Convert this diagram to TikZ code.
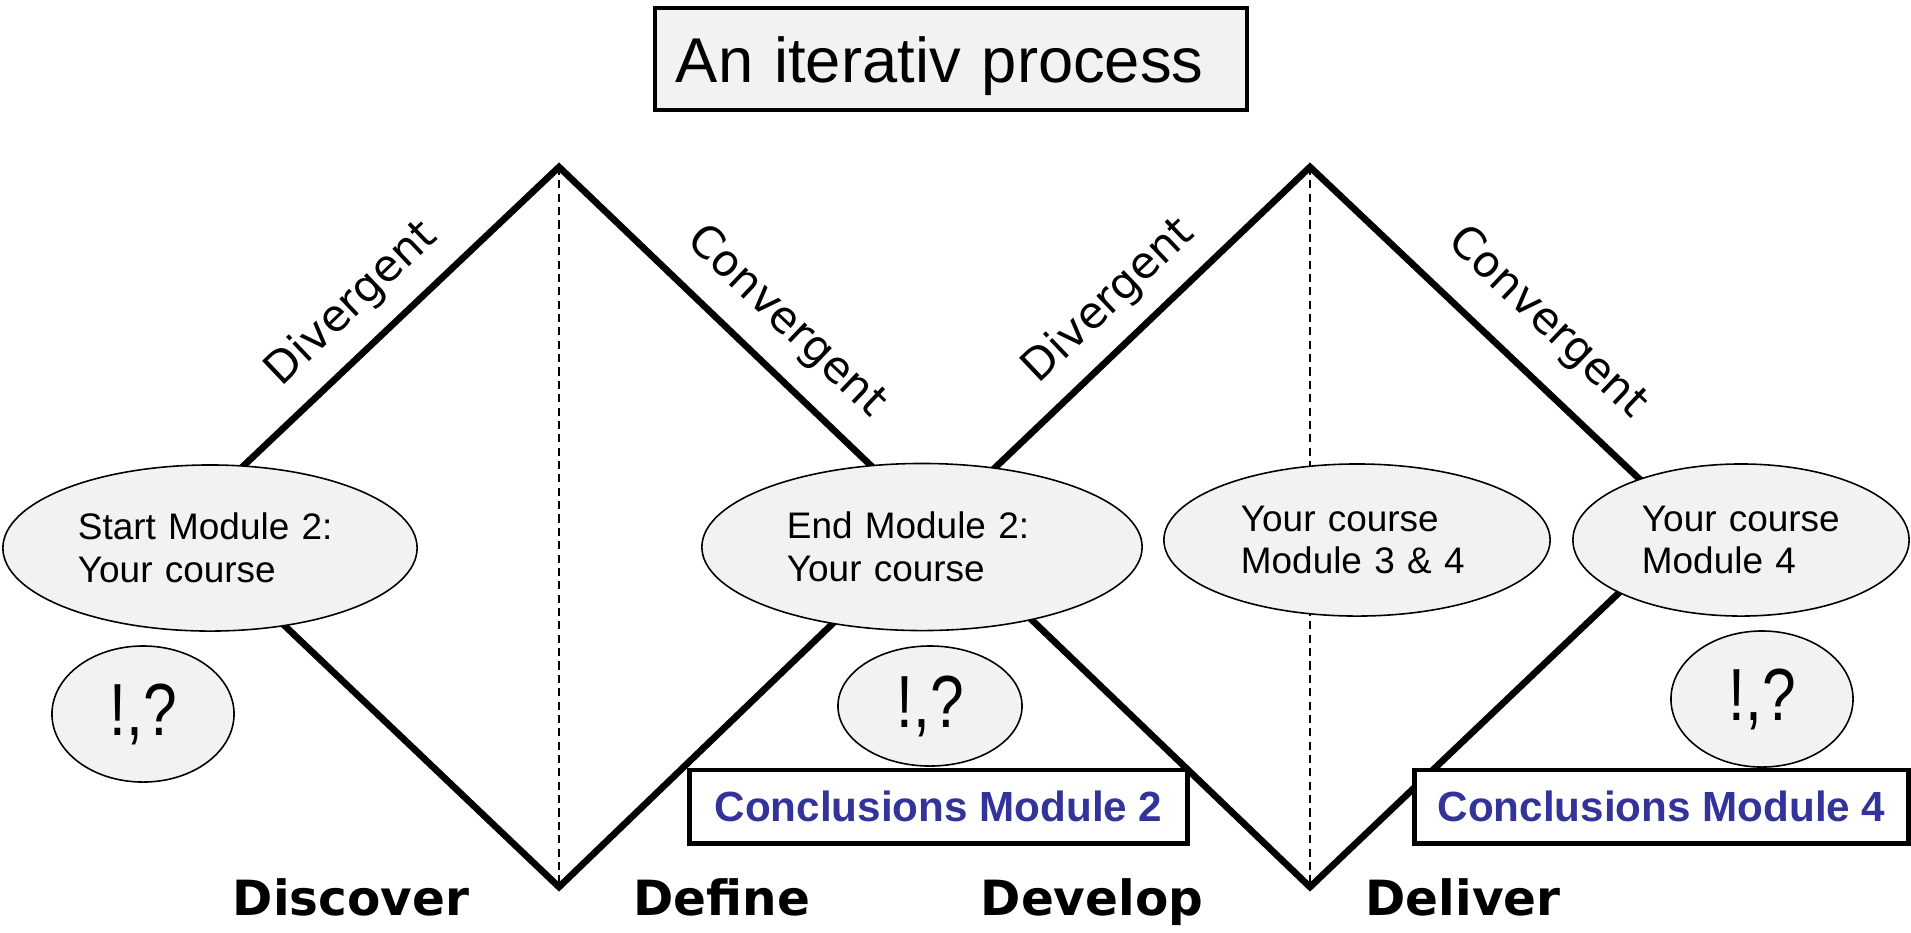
\documentclass[tikz,border=0pt]{standalone}
\usepackage{fontspec}
\setmainfont{Liberation Sans}
\newfontfamily\vera{DejaVu Sans}
\usepackage{tikz}
\usetikzlibrary{shapes.geometric, positioning}
\definecolor{bubblegray}{HTML}{F2F2F2}
\definecolor{conclblue}{HTML}{333399}
\tikzset{
	phase/.style={draw, line width=1.9pt, line join=miter},
	midline/.style={draw, line width=0.45pt, dash pattern=on 2.3pt off 1.5pt},
	bubble/.style={ellipse, draw, line width=0.45pt, fill=bubblegray, inner sep=0pt, align=left, font=\fontsize{10.5}{12.2}\selectfont},
	qbubble/.style={ellipse, draw, line width=0.45pt, fill=bubblegray, inner sep=0pt, font=\fontsize{21}{24}\selectfont},
	titlebox/.style={rectangle, draw, line width=1.15pt, fill=bubblegray, inner sep=0pt, text width=5.5cm, align=left, text height=0.6cm, text depth=0.14cm, font=\fontsize{18}{21}\selectfont},
	conclbox/.style={rectangle, draw, line width=1.4pt, fill=white, inner sep=0pt, minimum height=0.73cm, text=conclblue, font=\fontsize{12}{14}\selectfont\bfseries},
	slopelabel/.style={inner sep=0pt, font=\vera\fontsize{12.5}{15}\selectfont},
	phaselabel/.style={anchor=base, inner sep=0pt, font=\vera\bfseries\fontsize{13.8}{16}\selectfont}
}
\newcommand{\qmark}{\scalebox{0.82}[1]{!,?}}

\begin{document}
\begin{tikzpicture}[x=0.01cm, y=-0.01cm]
	\useasboundingbox (0,0) rectangle (1911,932);

	\coordinate (L1) at (180,526);
	\coordinate (T1) at (559,167);
	\coordinate (B1) at (559,887);
	\coordinate (R1) at (934,526);
	\coordinate (T2) at (1310,167);
	\coordinate (B2) at (1310,887);
	\coordinate (R2) at (1689,526);

	\draw [phase] (L1) -- (T1) -- (R1) -- (B1) -- cycle;
	\draw [phase] (R1) -- (T2) -- (R2) -- (B2) -- cycle;
	\draw [midline] (T1) -- (B1);
	\draw [midline] (T2) -- (B2);

	\node [slopelabel, rotate=43.6] (div1) at (352,304) {Divergent};
	\node [slopelabel, rotate=-43.6] (conv1) at (786,322) {Convergent};
	\node [slopelabel, rotate=43.6] (div2) at (1109,301) {Divergent};
	\node [slopelabel, rotate=-43.6] (conv2) at (1547,323) {Convergent};

	\node [titlebox, minimum width=5.91cm, minimum height=1.02cm] (title) at (951,59) {An iterativ process};

	\node [bubble, minimum width=4.14cm, minimum height=1.66cm, text width=2.64cm] (start) at (210,548) {Start Module 2:\\Your course};
	\node [bubble, minimum width=4.40cm, minimum height=1.67cm, text width=2.70cm] (end) at (922,547) {End Module 2:\\Your course};
	\node [bubble, minimum width=3.86cm, minimum height=1.52cm, text width=2.32cm] (mod34) at (1357,540) {Your course\\Module 3 \& 4};
	\node [bubble, minimum width=3.36cm, minimum height=1.52cm, text width=1.98cm] (mod4) at (1741,540) {Your course\\Module 4};

	\node [qbubble, minimum width=1.82cm, minimum height=1.36cm] (q1) at (143,714) {\qmark};
	\node [qbubble, minimum width=1.84cm, minimum height=1.20cm] (q2) at (930,706) {\qmark};
	\node [qbubble, minimum width=1.82cm, minimum height=1.36cm] (q3) at (1762,699) {\qmark};

	\node [conclbox, minimum width=4.97cm] (concl2) at (938.5,806.5) {Conclusions Module 2};
	\node [conclbox, minimum width=4.93cm] (concl4) at (1661.5,806.5) {Conclusions Module 4};

	\node [phaselabel] (discover) at (351,915) {Discover};
	\node [phaselabel] (define) at (722,915) {Define};
	\node [phaselabel] (develop) at (1092,915) {Develop};
	\node [phaselabel] (deliver) at (1463,915) {Deliver};
\end{tikzpicture}
\end{document}
